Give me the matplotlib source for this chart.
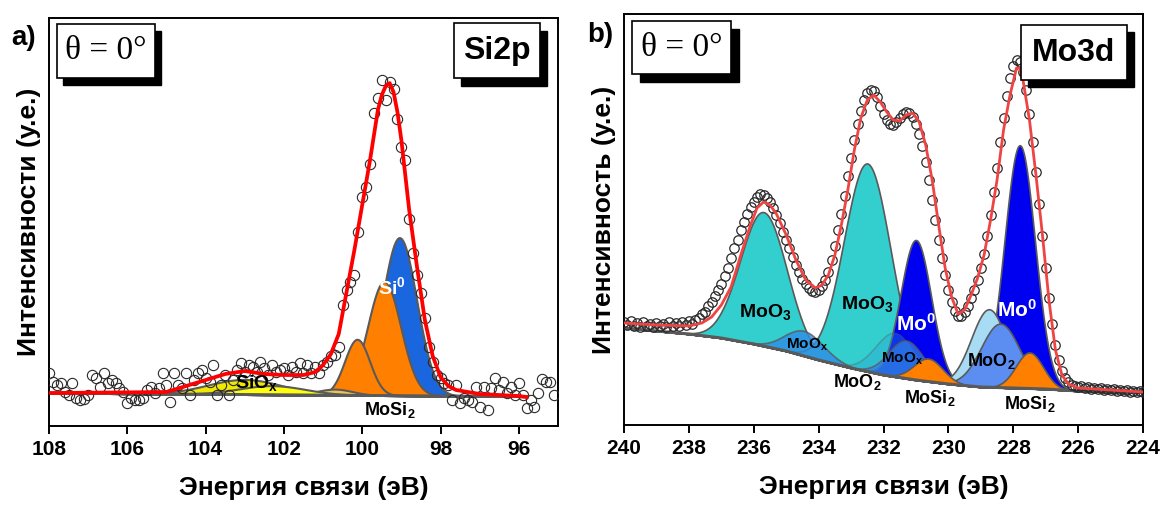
import numpy as np
import matplotlib
matplotlib.use("Agg")
import matplotlib.pyplot as plt
from matplotlib.patches import Rectangle

plt.rcParams['font.family'] = ['Liberation Sans', 'DejaVu Sans']
plt.rcParams['font.weight'] = 'bold'
plt.rcParams['axes.labelweight'] = 'bold'
plt.rcParams['mathtext.fontset'] = 'custom'
plt.rcParams['mathtext.rm'] = 'Liberation Sans:bold'
plt.rcParams['mathtext.it'] = 'Liberation Sans:bold'
plt.rcParams['mathtext.bf'] = 'Liberation Sans:bold'

# ---------------- Si2p spectrum ----------------
si_energy = np.round(np.arange(108.0, 95.05, -0.1), 1)
si_counts = [
    53, 44, 41, 43, 34, 31, 43, 28, 26, 27,
    31, 51, 48, 39, 53, 43, 46, 43, 38, 34,
    23, 28, 26, 26, 28, 36, 39, 33, 38, 53,
    41, 24, 53, 41, 38, 53, 31, 46, 53, 56,
    48, 44, 61, 31, 41, 51, 31, 46, 56, 63,
    54, 61, 59, 54, 64, 58, 51, 61, 54, 56,
    58, 51, 59, 54, 63, 53, 61, 53, 59, 53,
    61, 64, 70, 71, 79, 121, 136, 144, 151, 194,
    229, 239, 262, 313, 328, 346, 326, 344, 337, 307,
    279, 266, 207, 173, 151, 133, 108, 79, 64, 51,
    48, 43, 41, 26, 41, 23, 28, 26, 24, 39,
    19, 39, 16, 38, 48, 36, 44, 33, 39, 31,
    43, 31, 18, 26, 19, 33, 47, 44, 44, 31,
]

si_fit_e = [108.0, 105.0, 104.5, 104.0, 103.5, 103.0, 102.5, 102.0, 101.5, 101.2,
            101.0, 100.8, 100.6, 100.4, 100.2, 100.0, 99.8, 99.6, 99.5, 99.4,
            99.3, 99.2, 99.1, 99.0, 98.9, 98.8, 98.6, 98.4, 98.2, 98.0,
            97.8, 97.6, 97.0, 96.0, 95.8]
si_fit_i = [33, 34, 40, 46, 52, 55, 52, 51, 51, 54,
            61, 72, 92, 134, 176, 221, 266, 316, 331, 340,
            343, 334, 314, 286, 251, 216, 159, 106, 70, 49,
            40, 36, 32, 30, 29]

si_bg_e = [108.0, 95.8]
si_bg_i = [33, 29.5]

# components: centre (eV), height, sigma (eV), colour
si_names = ['Si0', 'MoSi2 b', 'MoSi2 a', 'MoSi2 c', 'SiOx', 'SiOx b']
si_centers = [99.05, 99.44, 100.13, 100.7, 103.0, 102.3]
si_heights = [158, 114, 56, 6, 15, 9]
si_sigmas = [0.44, 0.42, 0.32, 0.45, 0.95, 0.85]
si_colors = ['#1a66de', '#ff8000', '#ff8000', '#ecc35a', '#f0e800', '#ffff10']

# ---------------- Mo3d spectrum ----------------
mo_energy = np.round(np.arange(240.0, 223.95, -0.1), 1)
mo_counts = [
    103, 100, 104, 99, 102, 98, 103, 99, 101, 98,
    102, 99, 101, 98, 103, 99, 102, 99, 103, 100,
    104, 101, 105, 107, 111, 113, 119, 123, 129, 135,
    141, 149, 157, 167, 177, 185, 195, 203, 211, 218,
    223, 228, 231, 230, 227, 223, 217, 210, 202, 193,
    185, 177, 168, 160, 153, 146, 141, 137, 134, 133,
    135, 139, 145, 153, 165, 179, 195, 211, 229, 249,
    267, 285, 301, 314, 325, 332, 335, 334, 328, 319,
    311, 305, 301, 300, 303, 307, 311, 313, 312, 308,
    301, 291, 279, 263, 245, 225, 205, 185, 167, 150,
    135, 123, 114, 109, 109, 113, 119, 127, 135, 145,
    157, 171, 189, 210, 233, 257, 283, 307, 329, 347,
    359, 365, 363, 353, 335, 311, 283, 253, 221, 189,
    157, 127, 101, 80, 65, 54, 47, 43, 40, 39,
    38, 39, 37, 38, 36, 37, 36, 37, 35, 36,
    35, 36, 34, 35, 34, 35, 33, 34, 33, 34,
    33,
]

mo_fit_e = [240.0, 239.0, 238.0, 237.6, 237.3, 237.0, 236.7, 236.4, 236.1, 235.9,
            235.7, 235.5, 235.3, 235.0, 234.7, 234.4, 234.1, 233.9, 233.7, 233.5,
            233.3, 233.1, 232.9, 232.7, 232.5, 232.3, 232.1, 231.9, 231.7, 231.5,
            231.3, 231.1, 230.9, 230.7, 230.5, 230.3, 230.1, 229.9, 229.7, 229.5,
            229.3, 229.1, 228.9, 228.7, 228.5, 228.3, 228.1, 227.9, 227.8, 227.7,
            227.5, 227.3, 227.1, 226.9, 226.7, 226.5, 226.3, 226.0, 225.0, 224.0]
mo_fit_i = [102, 100, 99, 102, 108, 120, 138, 170, 200, 217,
            223, 220, 211, 190, 165, 145, 137, 140, 150, 170,
            200, 235, 275, 307, 325, 330, 323, 313, 305, 304,
            310, 312, 303, 280, 245, 200, 157, 128, 111, 115,
            130, 147, 170, 205, 245, 295, 330, 357, 357, 345,
            305, 250, 190, 125, 75, 50, 41, 37, 35, 33]

mo_bg_e = [240, 239, 238, 237, 236, 235, 234, 233, 232, 231, 230, 229, 228, 227, 226, 225, 224]
mo_bg_i = [97, 94, 91, 87, 81, 74, 65, 57, 50, 45, 41, 38, 37, 36, 34, 33, 33]

# drawn in this order, later ones on top
mo_names = ['MoO3', 'MoO3', 'Mo0', 'Mo0', 'MoO2', 'MoOx', 'MoO2', 'MoOx', 'MoO2', 'MoSi2', 'MoSi2']
mo_centers = [235.7, 232.5, 231.0, 227.8, 231.65, 234.45, 228.75, 231.3, 228.4, 230.62, 227.5]
mo_heights = [134, 208, 140, 243, 44, 25, 78, 38, 64, 23, 36]
mo_sigmas = [0.72, 0.72, 0.47, 0.47, 0.60, 0.60, 0.55, 0.55, 0.60, 0.45, 0.42]
mo_colors = ['#33cfcf', '#33cfcf', '#0000f0', '#0000f0', '#2a9fd0', '#2f8de6',
             '#a8dcf5', '#2f7fe6', '#5b8ef0', '#ff8000', '#ff8000']
mo_alphas = [1, 1, 1, 1, 0.35, 0.8, 1, 0.75, 1, 1, 1]


def gauss(e, center, height, sigma):
    return height * np.exp(-(e - center) ** 2 / (2 * sigma ** 2))


def shadow_box(ax, x0, y0, w, h, text, fontsize, family, dx, dy):
    ax.add_patch(Rectangle((x0 + dx, y0 - dy), w, h, transform=ax.transAxes,
                           facecolor='black', edgecolor='black', zorder=10, clip_on=False))
    ax.add_patch(Rectangle((x0, y0), w, h, transform=ax.transAxes,
                           facecolor='white', edgecolor='black', lw=1.2, zorder=11, clip_on=False))
    ax.text(x0 + w / 2, y0 + h / 2, text, transform=ax.transAxes, ha='center', va='center',
            fontsize=fontsize, family=family, fontweight='normal' if 'Serif' in family[0] else 'bold',
            zorder=12)


fig = plt.figure(figsize=(11.61, 5.08), dpi=100)
ax1 = fig.add_axes([0.0422, 0.1614, 0.4384, 0.803])
ax2 = fig.add_axes([0.5375, 0.1634, 0.447, 0.809])

# ---- panel a ----
grid = np.linspace(108, 95.8, 1200)
bg = np.interp(grid, si_bg_e[::-1], si_bg_i[::-1])
for c, h, s, col in zip(si_centers, si_heights, si_sigmas, si_colors):
    ax1.fill_between(grid, bg, bg + gauss(grid, c, h, s), facecolor=col,
                     edgecolor='#5a5a5a', lw=1.5, zorder=2)
ax1.plot(si_bg_e, si_bg_i, color='#5a5a5a', lw=2, zorder=2)
ax1.plot(si_energy, si_counts, 'o', mfc='none', mec='#2a2a2a', ms=7.4, mew=0.8, zorder=3)
ax1.plot(si_fit_e, si_fit_i, color='#ff0000', lw=2.7, zorder=4)

ax1.text(102.69, 43, 'SiO$_x$', fontsize=14, ha='center', va='center', zorder=5)
ax1.text(99.24, 139, 'Si$^0$', fontsize=14, color='white', ha='center', va='center', zorder=5)
ax1.text(99.29, 16, 'MoSi$_2$', fontsize=13, ha='center', va='center', zorder=5)

ax1.set_xlim(108, 95)
ax1.set_ylim(0, 408)
ax1.set_xticks([108, 106, 104, 102, 100, 98, 96])
ax1.set_ylabel('Интенсивности (у.е.)', fontsize=19, labelpad=6)

shadow_box(ax1, 0.0157, 0.853, 0.1925, 0.132, 'θ = 0°', 24, ['Liberation Serif', 'DejaVu Serif'], 0.0118, 0.017)
shadow_box(ax1, 0.7957, 0.853, 0.169, 0.135, 'Si2p', 23, ['Liberation Sans', 'DejaVu Sans'], 0.0138, 0.02)

# ---- panel b ----
grid = np.linspace(240, 224, 1600)
bg = np.interp(grid, mo_bg_e[::-1], mo_bg_i[::-1])
for c, h, s, col, a in zip(mo_centers, mo_heights, mo_sigmas, mo_colors, mo_alphas):
    ax2.fill_between(grid, bg, bg + gauss(grid, c, h, s), facecolor=col, alpha=a,
                     edgecolor='#5a5a5a', lw=1.2, zorder=2)
ax2.plot(mo_bg_e, mo_bg_i, color='#5a5a5a', lw=2.2, zorder=2)
ax2.plot(mo_energy, mo_counts, 'o', mfc='none', mec='#2a2a2a', ms=6.8, mew=0.9, zorder=3)
ax2.plot(mo_fit_e, mo_fit_i, color='#ee4444', lw=2.0, zorder=4)

ax2.text(235.65, 113, 'MoO$_3$', fontsize=14, ha='center', va='center', zorder=5)
ax2.text(232.5, 121, 'MoO$_3$', fontsize=14, ha='center', va='center', zorder=5)
ax2.text(231.0, 101, 'Mo$^0$', fontsize=15, color='white', ha='center', va='center', zorder=5)
ax2.text(227.89, 115, 'Mo$^0$', fontsize=15, color='white', ha='center', va='center', zorder=5)
ax2.text(234.36, 80, 'MoO$_x$', fontsize=11, ha='center', va='center', zorder=5)
ax2.text(231.43, 66, 'MoO$_x$', fontsize=11, ha='center', va='center', zorder=5)
ax2.text(228.69, 64, 'MoO$_2$', fontsize=13, ha='center', va='center', zorder=5)
ax2.text(232.82, 43, 'MoO$_2$', fontsize=13, ha='center', va='center', zorder=5)
ax2.text(230.57, 27, 'MoSi$_2$', fontsize=13, ha='center', va='center', zorder=5)
ax2.text(227.48, 21, 'MoSi$_2$', fontsize=13, ha='center', va='center', zorder=5)

ax2.set_xlim(240, 224)
ax2.set_ylim(0, 411)
ax2.set_xticks(list(range(240, 223, -2)))
ax2.set_ylabel('Интенсивность (у.е.)', fontsize=19, labelpad=6)

shadow_box(ax2, 0.0154, 0.854, 0.1908, 0.129, 'θ = 0°', 24, ['Liberation Serif', 'DejaVu Serif'], 0.0154, 0.02)
shadow_box(ax2, 0.765, 0.839, 0.204, 0.134, 'Mo3d', 23, ['Liberation Sans', 'DejaVu Sans'], 0.0135, 0.017)

for ax in (ax1, ax2):
    ax.set_yticks([])
    ax.tick_params(axis='x', direction='out', length=6, width=1.4, labelsize=15, pad=4)
    ax.set_xlabel('Энергия связи (эВ)', fontsize=19, labelpad=12)
    for sp in ax.spines.values():
        sp.set_linewidth(1.4)

fig.text(0.010, 0.925, 'a)', fontsize=20, ha='left', va='center')
fig.text(0.506, 0.932, 'b)', fontsize=20, ha='left', va='center')

fig.savefig('out.png', dpi=100)
